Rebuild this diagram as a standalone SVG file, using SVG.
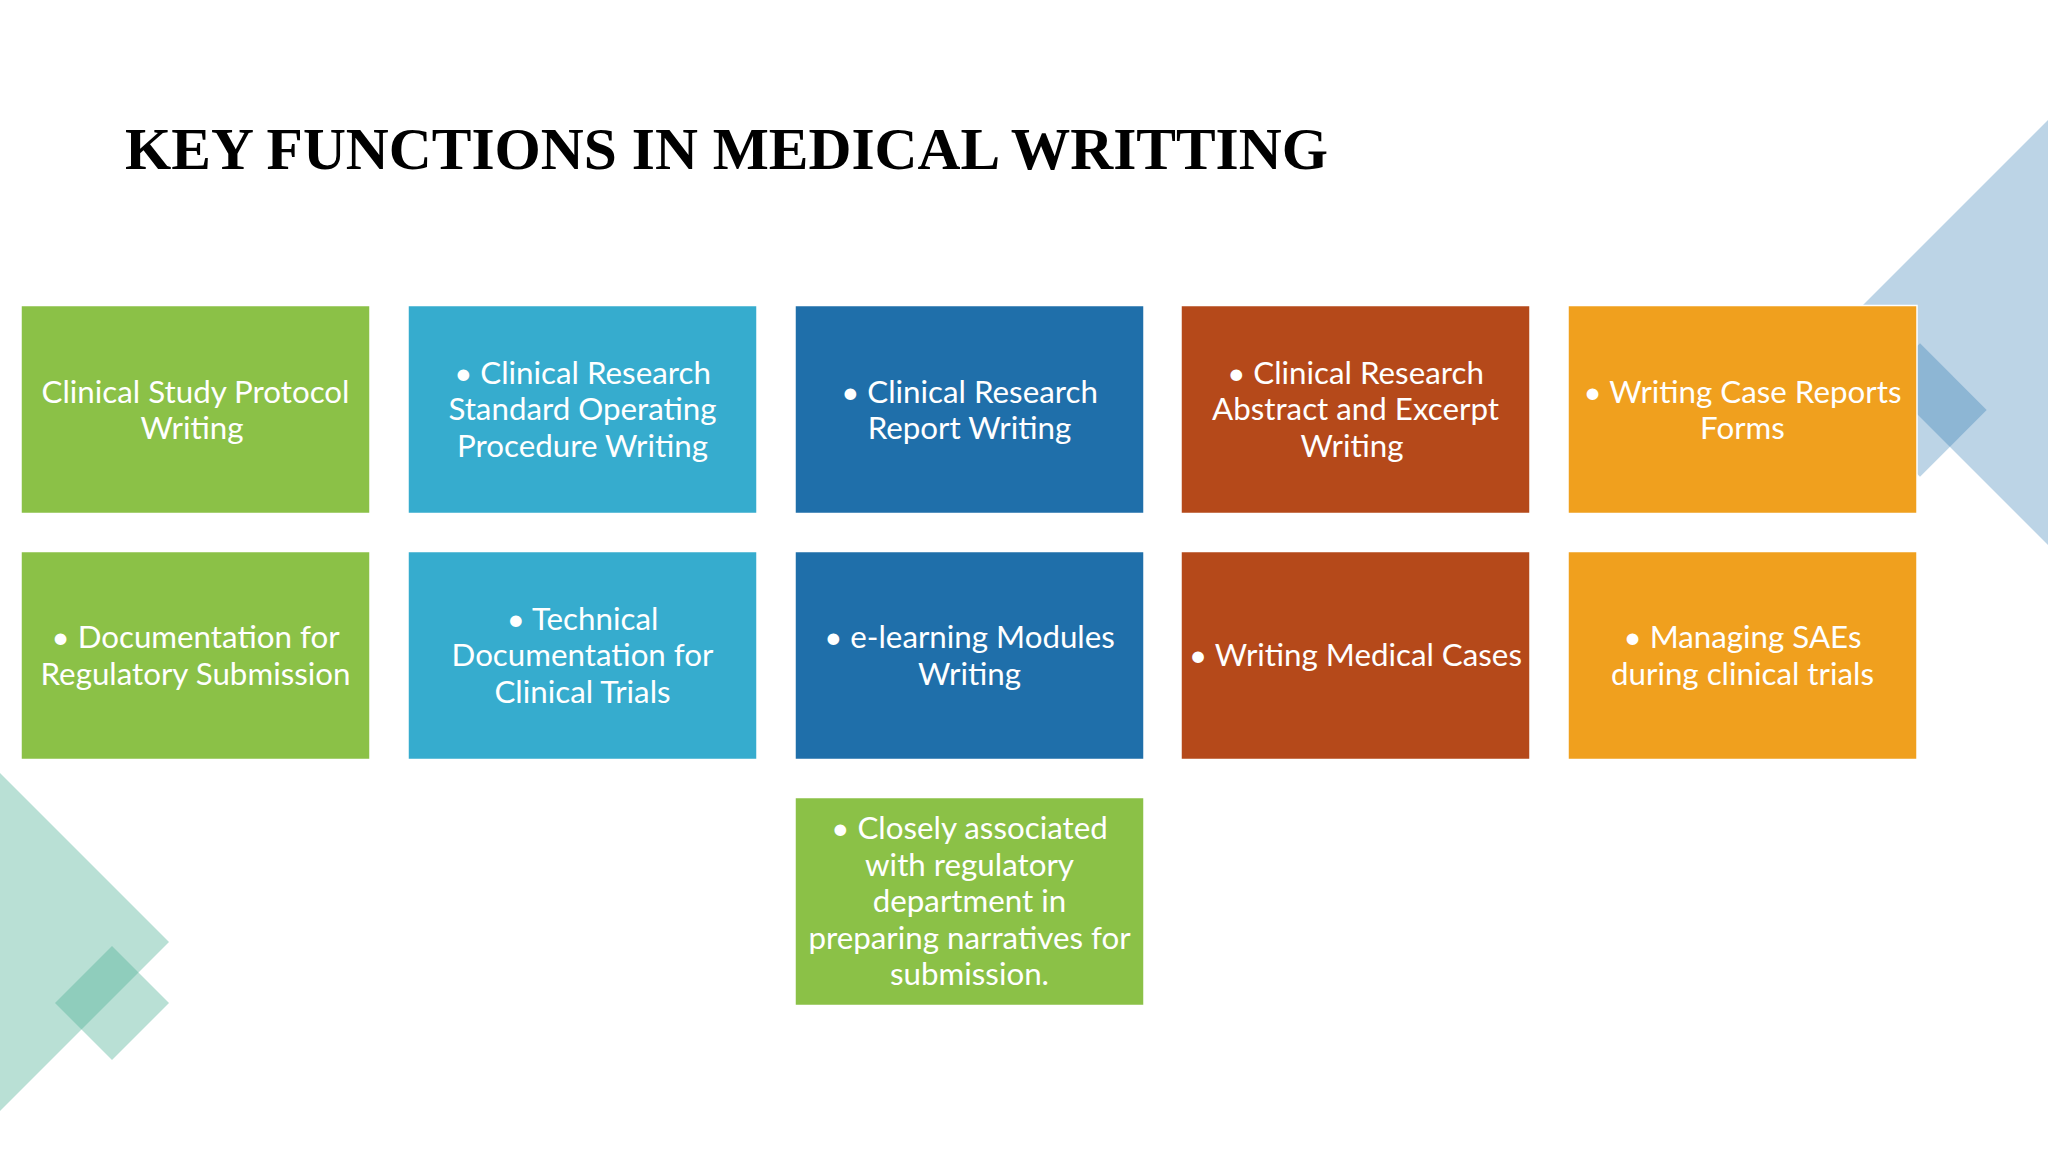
<svg xmlns="http://www.w3.org/2000/svg" width="2048" height="1152" viewBox="0 0 2048 1152">
<style>
.box{stroke:#ffffff;stroke-width:1.5}
.g{fill:#8bc147}.lb{fill:#36acce}.db{fill:#1f6faa}.rs{fill:#b5491a}.or{fill:#f0a01e}
.t{font-family:Lato,"Noto Sans",sans-serif;font-size:31.3px;fill:#ffffff;text-anchor:middle}
.title{font-family:"Liberation Serif","Times New Roman",serif;font-weight:bold;font-size:60px;fill:#000000}
.bl{fill:#2070ac;fill-opacity:0.3}
.tl{fill:#50b296;fill-opacity:0.4}
</style>
<rect width="2048" height="1152" fill="#ffffff"/>
<g id="decor">
<polygon class="bl" points="1835.5,332.5 2048,120 2048,545"/>
<polygon class="bl" points="1920,343.3 1986.7,410 1920,476.7 1853.3,410"/>
<polygon class="tl" points="0,773 169,942 0,1111"/>
<polygon class="tl" points="112,946 169,1003 112,1060 55,1003"/>
</g>
<text id="title" class="title" x="125" y="169" textLength="1203" lengthAdjust="spacingAndGlyphs">KEY FUNCTIONS IN MEDICAL WRITTING</text>
<g id="n1"><rect class="box g" x="21" y="305.5" width="349" height="208"/>
<text class="t" x="195.5" y="402.5">Clinical Study Protocol</text><text class="t" x="192" y="439">Writing</text></g>
<g id="n2"><rect class="box lb" x="408" y="305.5" width="349" height="208"/>
<text class="t" x="582.5" y="383.5">• Clinical Research</text><text class="t" x="582.5" y="420">Standard Operating</text><text class="t" x="582.5" y="456.5">Procedure Writing</text></g>
<g id="n3"><rect class="box db" x="795" y="305.5" width="349" height="208"/>
<text class="t" x="969.5" y="402.5">• Clinical Research</text><text class="t" x="969.5" y="439">Report Writing</text></g>
<g id="n4"><rect class="box rs" x="1181" y="305.5" width="349" height="208"/>
<text class="t" x="1355.5" y="383.5">• Clinical Research</text><text class="t" x="1355.5" y="420">Abstract and Excerpt</text><text class="t" x="1352" y="456.5">Writing</text></g>
<g id="n5"><rect class="box or" x="1568" y="305.5" width="349" height="208"/>
<text class="t" x="1742.5" y="402.5">• Writing Case Reports</text><text class="t" x="1742.5" y="439">Forms</text></g>
<g id="n6"><rect class="box g" x="21" y="551.5" width="349" height="208"/>
<text class="t" x="195.5" y="648">• Documentation for</text><text class="t" x="195.5" y="684.5">Regulatory Submission</text></g>
<g id="n7"><rect class="box lb" x="408" y="551.5" width="349" height="208"/>
<text class="t" x="582.5" y="629.5">• Technical</text><text class="t" x="582.5" y="666">Documentation for</text><text class="t" x="582.5" y="702.5">Clinical Trials</text></g>
<g id="n8"><rect class="box db" x="795" y="551.5" width="349" height="208"/>
<text class="t" x="969.5" y="648">• e-learning Modules</text><text class="t" x="969.5" y="684.5">Writing</text></g>
<g id="n9"><rect class="box rs" x="1181" y="551.5" width="349" height="208"/>
<text class="t" x="1355.5" y="666">• Writing Medical Cases</text></g>
<g id="n10"><rect class="box or" x="1568" y="551.5" width="349" height="208"/>
<text class="t" x="1742.5" y="648">• Managing SAEs</text><text class="t" x="1742.5" y="684.5">during clinical trials</text></g>
<g id="n11"><rect class="box g" x="795" y="797.5" width="349" height="208"/>
<text class="t" x="969.5" y="839">• Closely associated</text><text class="t" x="969.5" y="875.5">with regulatory</text><text class="t" x="969.5" y="912">department in</text><text class="t" x="969.5" y="948.5">preparing narratives for</text><text class="t" x="969.5" y="985">submission.</text></g>
<g id="connectors"></g>
</svg>
